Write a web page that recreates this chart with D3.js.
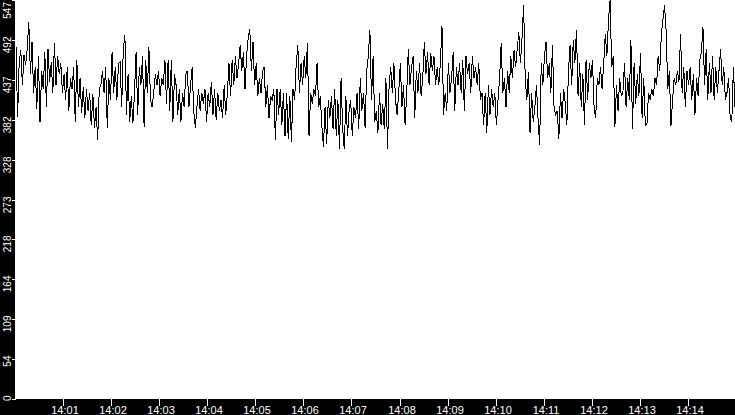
<!DOCTYPE html>
<html>
<head>
<meta charset="utf-8">
<script src="https://cdn.jsdelivr.net/npm/d3@7"></script>
<style>
  html, body { margin: 0; padding: 0; background: #fff; }
  svg { display: block; }
</style>
</head>
<body>
<svg id="chart" width="735" height="415"></svg>
<script>
// ---- data ----
const startTime = "2000-01-01T14:00:01Z";
const stepSeconds = 2;
const values = [
  // 14:00 - 14:02
  484,386,462,478,430,472,458,480,517,445,490,420,455,398,470,380,450,425,475,400,
  480,435,462,420,488,430,470,445,460,420,445,410,455,395,440,425,455,380,465,400,
  440,392,428,385,425,395,420,375,418,372,400,355,425,430,450,420,455,
  372,440,410,476,420,455,410,460,462,400,480,499,390,445,380,415,378,420,476,390,
  455,430,470,373,465,420,482,410,400,420,445,430,450,415,440,430,465,405,465,395,
  465,380,445,430,390,425,380,420,400,445,450,400,430,455,395,372,
  // 14:03 - 14:05
  400,425,395,420,405,425,380,420,400,435,390,425,382,420,395,410,385,430,390,420,
  460,415,465,430,470,440,460,485,450,475,425,470,495,507,450,490,430,460,415,440,
  420,450,455,400,430,385,415,410,425,355,425,390,425,375,420,360,
  420,356,415,352,425,410,460,485,420,460,430,470,440,488,360,420,405,425,415,460,
  400,415,375,345,400,350,410,385,415,370,425,360,410,343,440,370,343,415,360,395,
  410,360,400,385,420,370,440,395,420,372,450,470,506,410,470,380,
  // 14:07 - 14:09
  395,365,420,375,405,370,440,343,430,455,420,460,410,390,420,460,400,430,375,420,
  480,430,455,470,385,450,420,460,415,440,490,445,475,430,474,450,470,430,455,430,
  460,512,390,420,395,460,420,440,475,395,455,430,460,420,465,395,
  470,445,460,420,470,440,455,430,460,410,420,375,420,365,430,390,425,400,420,375,
  410,440,488,420,440,400,450,420,470,440,478,455,480,503,460,495,540,440,410,448,
  365,420,380,400,430,385,348,460,430,470,490,440,460,420,485,400,390,
  // 14:11 - 14:13
  395,357,420,385,425,405,375,450,485,430,492,460,506,415,460,400,445,375,465,410,
  460,440,465,400,385,440,430,455,425,460,500,470,520,547,455,470,373,430,395,440,
  415,420,460,400,440,410,492,370,460,405,445,415,475,385,440,375,
  376,420,410,425,415,440,430,470,450,500,520,540,505,425,450,374,410,440,430,450,
  435,500,420,455,400,450,430,455,410,445,390,440,415,465,475,510,430,480,410,460,
  420,470,410,455,420,450,480,430,455,410,420,440,385,380,455,400
];
const yMax = 547;
const yTickLabels = ["0","54","109","164","218","273","328","382","437","492","547"];
const xTickFormat = "%H:%M";

// ---- layout ----
const W = 735, H = 415;
const plotLeft = 16, plotBottom = 399;
const svg = d3.select("#chart");

const t0 = new Date(startTime);
const series = values.map((v, i) => ({ t: new Date(t0.getTime() + i * stepSeconds * 1000), v }));

const x = d3.scaleUtc()
  .domain(d3.extent(series, d => d.t))
  .range([plotLeft, W]);
const y = d3.scaleLinear().domain([0, yMax]).range([plotBottom, 0]);

// background
svg.append("rect").attr("x", 0).attr("y", 0).attr("width", W).attr("height", H).attr("fill", "#fff");

// line
const line = d3.line().x(d => x(d.t)).y(d => y(d.v));
svg.append("path")
  .datum(series)
  .attr("d", line)
  .attr("fill", "none")
  .attr("stroke", "#000")
  .attr("stroke-width", 1)
  .attr("shape-rendering", "crispEdges");

// axis bands
svg.append("rect").attr("x", 0).attr("y", 0).attr("width", 15).attr("height", H).attr("fill", "#000");
svg.append("rect").attr("x", 0).attr("y", plotBottom).attr("width", W).attr("height", H - plotBottom).attr("fill", "#000");

// y ticks
const yTickVals = yTickLabels.map((s, i) => i * yMax / (yTickLabels.length - 1));
const yg = svg.append("g");
yTickVals.forEach((tv, i) => {
  const py = Math.round(y(tv)) + 0.5;
  yg.append("line").attr("x1", 12).attr("x2", 16).attr("y1", py).attr("y2", py)
    .attr("stroke", "#fff").attr("stroke-width", 1).attr("shape-rendering", "crispEdges");
  const ay = Math.max(py - 4, 2);
  yg.append("text")
    .attr("transform", `translate(11,${ay}) rotate(-90)`)
    .attr("text-anchor", "end")
    .attr("fill", "#fff")
    .attr("font-family", "'Liberation Sans', Arial, sans-serif")
    .attr("font-size", 10)
    .text(yTickLabels[i]);
});

// x ticks
const xTicks = x.ticks(d3.utcMinute.every(1)).filter(d => x(d) > plotLeft + 2);
const fmt = d3.utcFormat(xTickFormat);
const xg = svg.append("g");
xTicks.forEach(d => {
  const px = Math.round(x(d)) + 0.5;
  xg.append("line").attr("x1", px).attr("x2", px).attr("y1", plotBottom).attr("y2", plotBottom + 7)
    .attr("stroke", "#fff").attr("stroke-width", 1).attr("shape-rendering", "crispEdges");
  xg.append("text")
    .attr("x", px + 1.5).attr("y", 414)
    .attr("text-anchor", "middle")
    .attr("fill", "#fff")
    .attr("font-family", "'Liberation Sans', Arial, sans-serif")
    .attr("font-size", 11)
    .text(fmt(d));
});
</script>
</body>
</html>
